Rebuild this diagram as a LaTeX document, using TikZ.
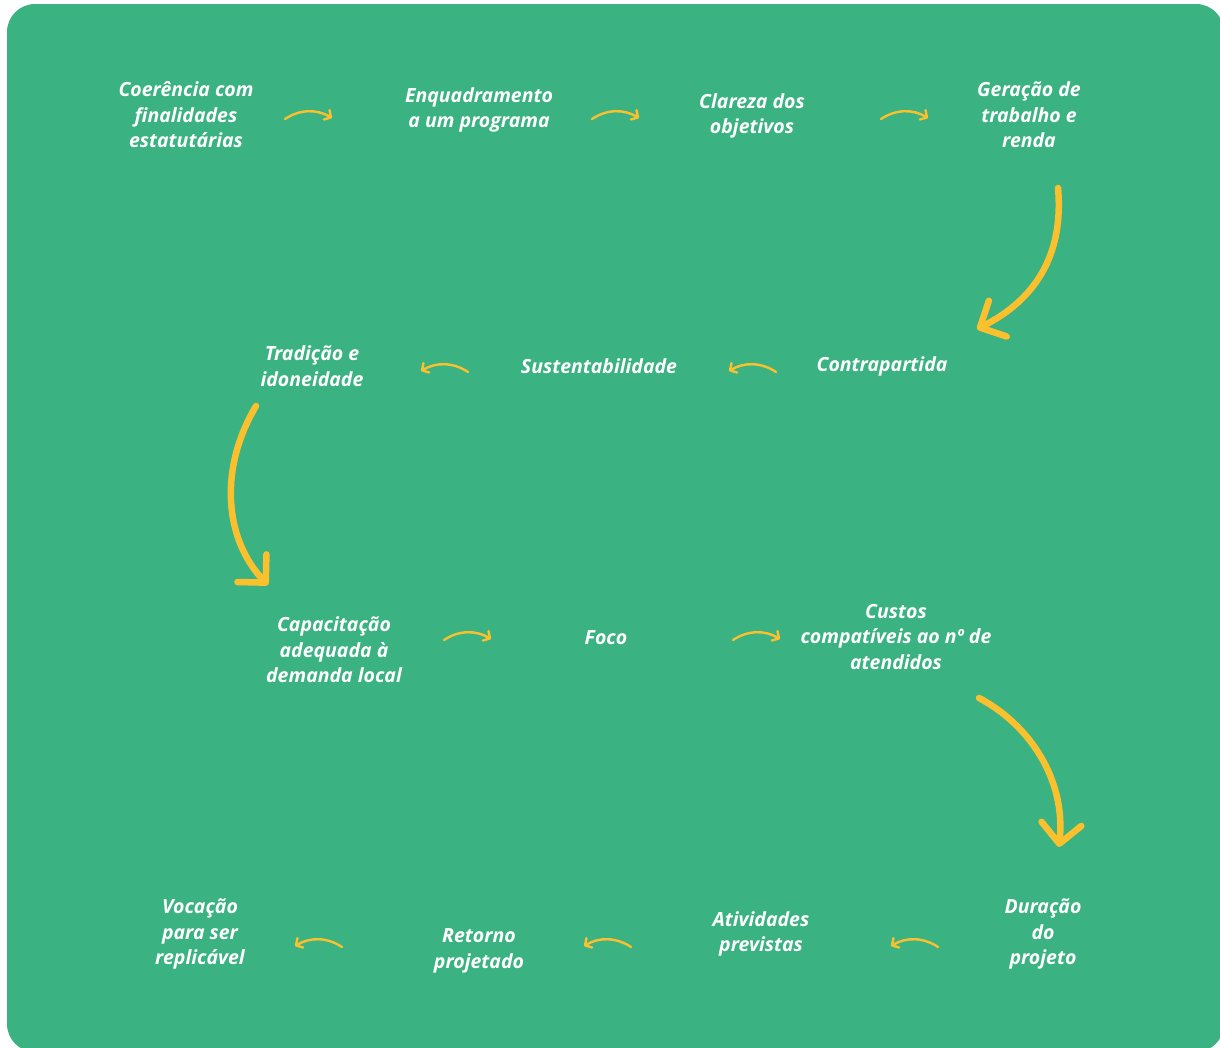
\documentclass[tikz,border=0pt]{standalone}
\usepackage{fontspec}
\setsansfont{Open Sans}
\usetikzlibrary{arrows.meta,positioning}

\definecolor{fundo}{RGB}{58,178,130}
\definecolor{seta}{RGB}{251,192,45}

\tikzset{
  etapa/.style={font=\sffamily\bfseries\itshape\fontsize{19.5}{25.5}\selectfont,
    text=white, align=center, inner sep=0pt},
  passo/.style={draw=seta, line width=2.4pt, line cap=round,
    -{Straight Barb[length=5pt,width=11pt,round]}},
  curva/.style={draw=seta, line width=6.5pt, line cap=round,
    -{Straight Barb[length=20pt,width=40pt,round]}}
}

\begin{document}
\begin{tikzpicture}[x=1pt,y=-1pt]
  \useasboundingbox (0,0) rectangle (1220,1047);
  \clip (0,0) rectangle (1220,1047);
  \fill[fundo, rounded corners=28pt] (7,4) rectangle (1224,1052);

  % primeira linha
  \node[etapa] (coe) at (186,115) {Coerência com\\finalidades\\estatutárias};
  \node[etapa] (enq) at (479,110) {Enquadramento\\a um programa};
  \node[etapa] (cla) at (752,116) {Clareza dos\\objetivos};
  \node[etapa] (ger) at (1029,115) {Geração de\\trabalho e\\renda};

  % segunda linha
  \node[etapa] (con) at (882,366) {Contrapartida};
  \node[etapa] (sus) at (599,366) {Sustentabilidade};
  \node[etapa] (tra) at (312,366) {Tradição e\\idoneidade};

  % terceira linha
  \node[etapa] (cap) at (334,650) {Capacitação\\adequada à\\demanda local};
  \node[etapa] (foc) at (606,638) {Foco};
  \node[etapa] (cus) at (896,637) {Custos\\compatíveis ao nº de\\atendidos};

  % quarta linha
  \node[etapa] (dur) at (1043,934) {Duração\\do\\projeto};
  \node[etapa] (ati) at (761,934) {Atividades\\previstas};
  \node[etapa] (ret) at (479,951) {Retorno\\projetado};
  \node[etapa] (voc) at (200,934) {Vocação\\para ser\\replicável};

  % setas curtas para a direita
  \foreach \n/\x/\y in {a/285/119, b/592/119, c/881/119, d/444/640, e/733/640}{
    \coordinate (\n0) at (\x,\y);
    \coordinate (\n1) at (\x+47,\y-1);
    \draw[passo] (\n0) .. controls (\x+15,\y-10) and (\x+32,\y-10) .. (\n1);
  }
  % setas curtas para a esquerda
  \foreach \n/\x/\y in {f/776/372, g/468/372, h/938/947, i/631/947, j/342/947}{
    \coordinate (\n0) at (\x,\y);
    \coordinate (\n1) at (\x-47,\y-1);
    \draw[passo] (\n0) .. controls (\x-15,\y-10) and (\x-32,\y-10) .. (\n1);
  }

  % setas grandes entre as linhas
  \coordinate (k0) at (1058,188);
  \coordinate (k1) at (977,329);
  \draw[curva] (k0) .. controls (1064,255) and (1035,300) .. (k1);
  \coordinate (m0) at (256,406);
  \coordinate (m1) at (268,585);
  \draw[curva] (m0) .. controls (218,470) and (225,540) .. (m1);
  \coordinate (n0) at (979,698);
  \coordinate (n1) at (1059,847);
  \draw[curva] (n0) .. controls (1030,725) and (1066,780) .. (n1);
\end{tikzpicture}
\end{document}
